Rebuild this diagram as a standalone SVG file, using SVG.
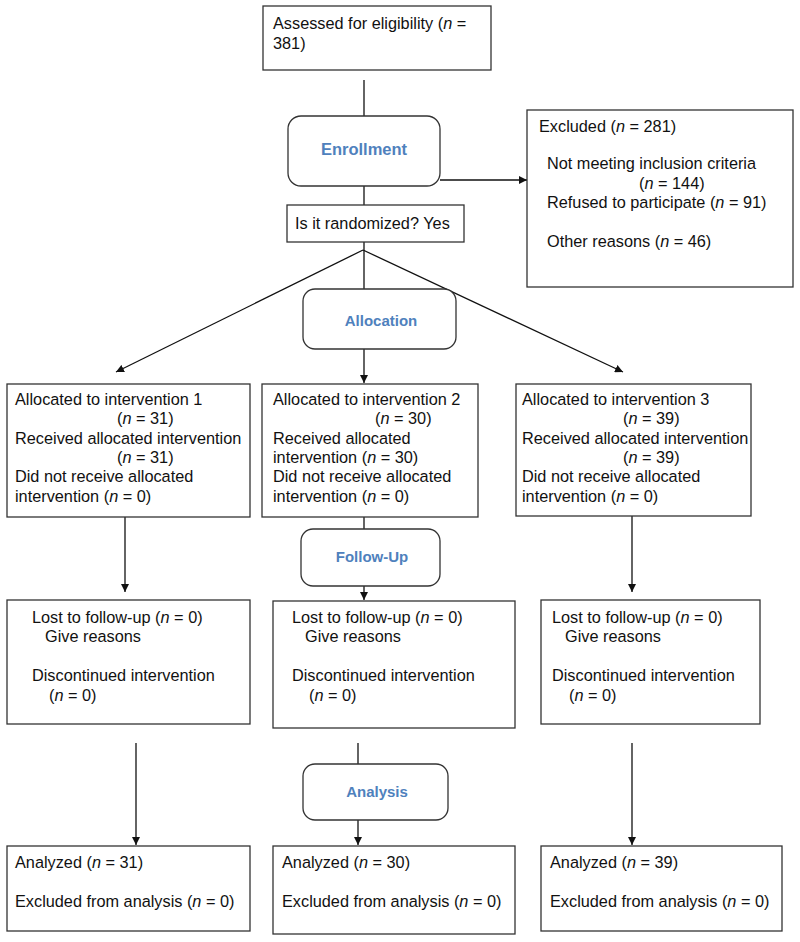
<svg xmlns="http://www.w3.org/2000/svg" width="800" height="942" viewBox="0 0 800 942">
<style>
.box{fill:#fff;stroke:#333;stroke-width:1.3}
.rbox{fill:#fff;stroke:#333;stroke-width:1.3}
.t{font-family:"Liberation Sans",Arial,sans-serif;font-size:16.3px;fill:#111}
.i{font-style:italic}
.lbl{font-family:"Liberation Sans",Arial,sans-serif;font-weight:bold;fill:#4f81bd;text-anchor:middle}
.ln{stroke:#111;stroke-width:1.3;fill:none}
</style>
<defs>
<marker id="ah" viewBox="0 0 10 10" refX="10" refY="5" markerWidth="8" markerHeight="8" markerUnits="userSpaceOnUse" orient="auto">
<path d="M0,0 L10,5 L0,10 Z" fill="#111"/>
</marker>
</defs>
<g id="connectors">
<line class="ln" x1="364" y1="80" x2="364" y2="116"/>
<line class="ln" x1="440" y1="180" x2="527" y2="180" marker-end="url(#ah)"/>
<line class="ln" x1="364" y1="186" x2="364" y2="205"/>
<line class="ln" x1="364" y1="242" x2="364" y2="289"/>
<line class="ln" x1="363" y1="250" x2="116" y2="372" marker-end="url(#ah)"/>
<line class="ln" x1="363" y1="250" x2="623" y2="372" marker-end="url(#ah)"/>
<line class="ln" x1="364" y1="349" x2="364" y2="383" marker-end="url(#ah)"/>
<line class="ln" x1="125" y1="517" x2="125" y2="592" marker-end="url(#ah)"/>
<line class="ln" x1="364" y1="517" x2="364" y2="529"/>
<line class="ln" x1="364" y1="586" x2="364" y2="600" marker-end="url(#ah)"/>
<line class="ln" x1="632" y1="516" x2="632" y2="592" marker-end="url(#ah)"/>
<line class="ln" x1="136" y1="743" x2="136" y2="845" marker-end="url(#ah)"/>
<line class="ln" x1="358" y1="743" x2="358" y2="764"/>
<line class="ln" x1="358" y1="820" x2="358" y2="845" marker-end="url(#ah)"/>
<line class="ln" x1="632" y1="743" x2="632" y2="845" marker-end="url(#ah)"/>
</g>
<g id="assessed">
<rect class="box" x="263" y="6" width="228" height="64"/>
<text class="t" x="273" y="29">Assessed for eligibility (<tspan class="i">n</tspan> =</text>
<text class="t" x="273" y="49">381)</text>
</g>
<g id="enrollment">
<rect class="rbox" x="288" y="116" width="152" height="70" rx="13"/>
<text class="lbl" x="364" y="155" font-size="16.5">Enrollment</text>
</g>
<g id="excluded">
<rect class="box" x="527" y="110" width="266" height="177"/>
<text class="t" x="539" y="132">Excluded (<tspan class="i">n</tspan> = 281)</text>
<text class="t" x="547" y="169">Not meeting inclusion criteria</text>
<text class="t" x="639" y="189">(<tspan class="i">n</tspan> = 144)</text>
<text class="t" x="547" y="208">Refused to participate (<tspan class="i">n</tspan> = 91)</text>
<text class="t" x="547" y="247">Other reasons (<tspan class="i">n</tspan> = 46)</text>
</g>
<g id="randomized">
<rect class="box" x="287" y="205" width="177" height="37"/>
<text class="t" x="295" y="229">Is it randomized? Yes</text>
</g>
<g id="allocation">
<rect class="rbox" x="303" y="289" width="153" height="60" rx="12"/>
<text class="lbl" x="381" y="326" font-size="15">Allocation</text>
</g>
<g id="alloc1">
<rect class="box" x="7" y="384" width="243" height="133"/>
<text class="t" x="15" y="405">Allocated to intervention 1</text>
<text class="t" x="117" y="424">(<tspan class="i">n</tspan> = 31)</text>
<text class="t" x="15" y="444">Received allocated intervention</text>
<text class="t" x="117" y="463">(<tspan class="i">n</tspan> = 31)</text>
<text class="t" x="15" y="482">Did not receive allocated</text>
<text class="t" x="15" y="502">intervention (<tspan class="i">n</tspan> = 0)</text>
</g>
<g id="alloc2">
<rect class="box" x="262" y="384" width="216" height="133"/>
<text class="t" x="273" y="405">Allocated to intervention 2</text>
<text class="t" x="375" y="424">(<tspan class="i">n</tspan> = 30)</text>
<text class="t" x="273" y="444">Received allocated</text>
<text class="t" x="273" y="463">intervention (<tspan class="i">n</tspan> = 30)</text>
<text class="t" x="273" y="482">Did not receive allocated</text>
<text class="t" x="273" y="502">intervention (<tspan class="i">n</tspan> = 0)</text>
</g>
<g id="alloc3">
<rect class="box" x="516" y="384" width="235" height="132"/>
<text class="t" x="522" y="405">Allocated to intervention 3</text>
<text class="t" x="623" y="424">(<tspan class="i">n</tspan> = 39)</text>
<text class="t" x="522" y="444">Received allocated intervention</text>
<text class="t" x="623" y="463">(<tspan class="i">n</tspan> = 39)</text>
<text class="t" x="522" y="482">Did not receive allocated</text>
<text class="t" x="522" y="502">intervention (<tspan class="i">n</tspan> = 0)</text>
</g>
<g id="followup">
<rect class="rbox" x="301" y="529" width="139" height="57" rx="12"/>
<text class="lbl" x="372" y="562" font-size="15">Follow-Up</text>
</g>
<g id="lost1">
<rect class="box" x="7" y="600" width="243" height="124"/>
<text class="t" x="32" y="623">Lost to follow-up (<tspan class="i">n</tspan> = 0)</text>
<text class="t" x="45" y="642">Give reasons</text>
<text class="t" x="32" y="681">Discontinued intervention</text>
<text class="t" x="49" y="701">(<tspan class="i">n</tspan> = 0)</text>
</g>
<g id="lost2">
<rect class="box" x="273" y="601" width="242" height="127"/>
<text class="t" x="292" y="623">Lost to follow-up (<tspan class="i">n</tspan> = 0)</text>
<text class="t" x="305" y="642">Give reasons</text>
<text class="t" x="292" y="681">Discontinued intervention</text>
<text class="t" x="309" y="701">(<tspan class="i">n</tspan> = 0)</text>
</g>
<g id="lost3">
<rect class="box" x="541" y="600" width="219" height="124"/>
<text class="t" x="552" y="623">Lost to follow-up (<tspan class="i">n</tspan> = 0)</text>
<text class="t" x="565" y="642">Give reasons</text>
<text class="t" x="552" y="681">Discontinued intervention</text>
<text class="t" x="569" y="701">(<tspan class="i">n</tspan> = 0)</text>
</g>
<g id="analysis">
<rect class="rbox" x="303" y="764" width="145" height="56" rx="12"/>
<text class="lbl" x="377" y="797" font-size="15">Analysis</text>
</g>
<g id="analyzed1">
<rect class="box" x="7" y="846" width="243" height="85"/>
<text class="t" x="15" y="868">Analyzed (<tspan class="i">n</tspan> = 31)</text>
<text class="t" x="15" y="907">Excluded from analysis (<tspan class="i">n</tspan> = 0)</text>
</g>
<g id="analyzed2">
<rect class="box" x="273" y="846" width="242" height="88"/>
<text class="t" x="282" y="868">Analyzed (<tspan class="i">n</tspan> = 30)</text>
<text class="t" x="282" y="907">Excluded from analysis (<tspan class="i">n</tspan> = 0)</text>
</g>
<g id="analyzed3">
<rect class="box" x="541" y="846" width="241" height="85"/>
<text class="t" x="550" y="868">Analyzed (<tspan class="i">n</tspan> = 39)</text>
<text class="t" x="550" y="907">Excluded from analysis (<tspan class="i">n</tspan> = 0)</text>
</g>
</svg>
